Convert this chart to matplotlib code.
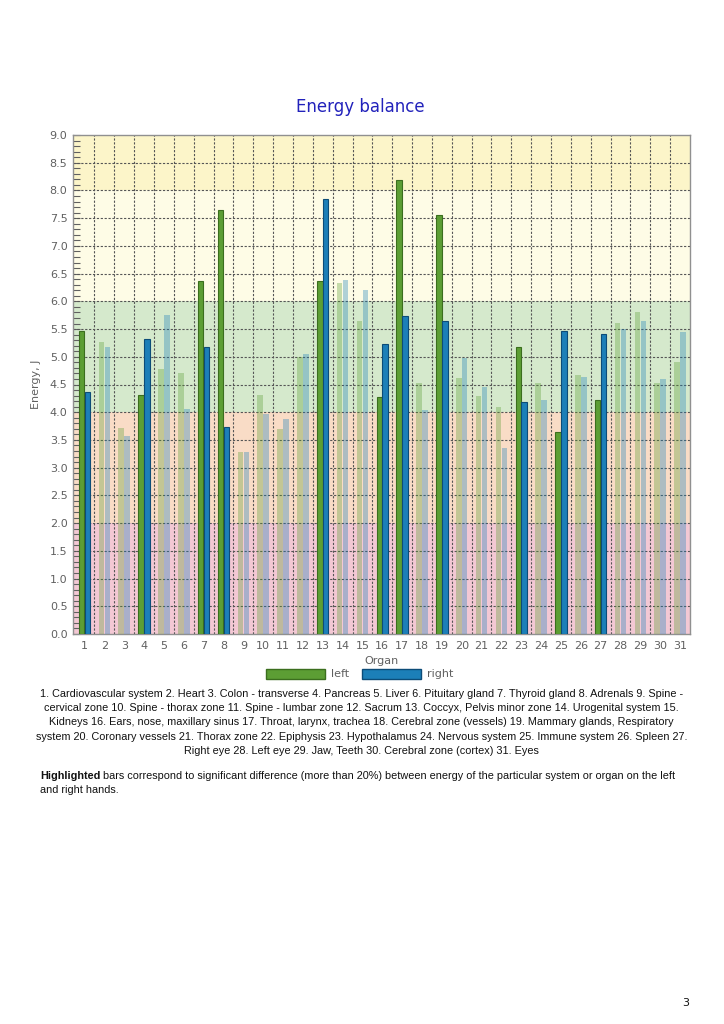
import matplotlib
matplotlib.use("Agg")
import matplotlib.pyplot as plt
from matplotlib.patches import Patch
import numpy as np

organs = list(range(1, 32))
left_vals = [5.47, 5.26, 3.71, 4.31, 4.78, 4.70, 6.37, 7.65, 3.29, 4.31,
             3.69, 4.99, 6.37, 6.33, 5.65, 4.27, 8.19, 4.52, 7.56, 4.61,
             4.30, 4.09, 5.17, 4.52, 3.65, 4.68, 4.22, 5.61, 5.81, 4.52, 4.90]
right_vals = [4.36, 5.17, 3.58, 5.32, 5.76, 4.06, 5.17, 3.74, 3.29, 3.97,
              3.87, 5.05, 7.85, 6.39, 6.20, 5.23, 5.74, 4.04, 5.64, 4.98,
              4.45, 3.36, 4.18, 4.22, 5.46, 4.63, 5.41, 5.50, 5.65, 4.60, 5.45]
highlighted = [1, 4, 7, 8, 13, 16, 17, 19, 23, 25, 27]

bands = [(0, 2, "#f3c8d4"), (2, 4, "#f9dcc6"), (4, 6, "#d5e9cc"),
         (6, 8, "#fefce6"), (8, 9, "#fcf5c9")]

legend_lines = [
    "1. Cardiovascular system 2. Heart 3. Colon - transverse 4. Pancreas 5. Liver 6. Pituitary gland 7. Thyroid gland 8. Adrenals 9. Spine -",
    "cervical zone 10. Spine - thorax zone 11. Spine - lumbar zone 12. Sacrum 13. Coccyx, Pelvis minor zone 14. Urogenital system 15.",
    "Kidneys 16. Ears, nose, maxillary sinus 17. Throat, larynx, trachea 18. Cerebral zone (vessels) 19. Mammary glands, Respiratory",
    "system 20. Coronary vessels 21. Thorax zone 22. Epiphysis 23. Hypothalamus 24. Nervous system 25. Immune system 26. Spleen 27.",
    "Right eye 28. Left eye 29. Jaw, Teeth 30. Cerebral zone (cortex) 31. Eyes",
]
note_bold = "Highlighted"
note_rest = "bars correspond to significant difference (more than 20%) between energy of the particular system or organ on the left"
note_line2 = "and right hands."

GREEN, GREEN_EDGE = "#5c9e34", "#3b6e1e"
BLUE, BLUE_EDGE = "#1c7fb8", "#0c4c78"
GRAY = "#606060"
TXT_FAMILY = "Liberation Sans"

fig = plt.figure(figsize=(7.24, 10.24), dpi=100)
ax = fig.add_axes([73/724, 1-634/1024, 617/724, 499/1024])

for lo, hi, c in bands:
    ax.axhspan(lo, hi, color=c, zorder=0, lw=0)

x = np.array(organs, dtype=float)
w = 0.28
for i, org in enumerate(organs):
    if org in highlighted:
        ax.bar(x[i]-0.15, left_vals[i], width=w, color=GREEN, edgecolor=GREEN_EDGE, linewidth=0.8, zorder=3)
        ax.bar(x[i]+0.15, right_vals[i], width=w, color=BLUE, edgecolor=BLUE_EDGE, linewidth=0.8, zorder=3)
    else:
        ax.bar(x[i]-0.15, left_vals[i], width=w, color=GREEN, alpha=0.34, linewidth=0, zorder=3)
        ax.bar(x[i]+0.15, right_vals[i], width=w, color=BLUE, alpha=0.34, linewidth=0, zorder=3)

ax.set_xlim(0.42, 31.5)
ax.set_ylim(0, 9)
yt = np.arange(0, 9.01, 0.5)
ax.set_yticks(yt)
ax.set_yticklabels([f"{v:.1f}" for v in yt], color=GRAY, fontsize=8)
ax.set_yticks(np.arange(0, 9.01, 0.1), minor=True)
ax.tick_params(axis="y", which="both", direction="in", length=5, width=0.8, color=GRAY, pad=4)
ax.set_xticks(organs)
ax.set_xticklabels([str(o) for o in organs], color=GRAY, fontsize=8)
ax.tick_params(axis="x", length=0, pad=5)

for v in yt[1:-1]:
    ax.axhline(v, color="#555555", lw=0.8, ls=(0, (2, 1.5)), zorder=2)
for b in np.arange(1.5, 31.5, 1.0):
    ax.axvline(b, color="#555555", lw=0.8, ls=(0, (2, 1.5)), zorder=2)

for s in ax.spines.values():
    s.set_color("#909090")
    s.set_linewidth(1.0)

ax.set_ylabel("Energy, J", color=GRAY, fontsize=8, labelpad=6)
ax.set_xlabel("Organ", color=GRAY, fontsize=8, labelpad=4)

fig.text(0.497, 1-107/1024, "Energy balance", color="#2222bb", fontsize=12, ha="center", va="center")

handles = [Patch(facecolor=GREEN, edgecolor=GREEN_EDGE, label="left"),
           Patch(facecolor=BLUE, edgecolor=BLUE_EDGE, label="right")]
leg = fig.legend(handles=handles, loc="center", bbox_to_anchor=(0.497, 1-674/1024), ncol=2,
                 frameon=False, fontsize=8, handlelength=5.3, handleheight=1.0,
                 columnspacing=1.2, handletextpad=0.5)
for t in leg.get_texts():
    t.set_color(GRAY)

renderer = fig.canvas.get_renderer()

# fit font size so the first description line spans ~643 px
probe = fig.text(0, 0, legend_lines[0], fontsize=10, family=TXT_FAMILY)
pw = probe.get_window_extent(renderer=renderer).width
probe.remove()
fs = 10 * 643 / pw

line_y = [694, 708, 722, 737, 751]
for ln, yy in zip(legend_lines, line_y):
    fig.text(361.5/724, 1-yy/1024, ln, ha="center", va="center", fontsize=fs,
             family=TXT_FAMILY, color="#111111")

tb = fig.text(40/724, 1-776/1024, note_bold, fontweight="bold", fontsize=fs,
              family=TXT_FAMILY, ha="left", va="center", color="#111111")
bb = tb.get_window_extent(renderer=renderer)
fig.text(bb.x1/724 + 3/724, 1-776/1024, note_rest, fontsize=fs, family=TXT_FAMILY,
         ha="left", va="center", color="#111111")
fig.text(40/724, 1-790/1024, note_line2, fontsize=fs, family=TXT_FAMILY,
         ha="left", va="center", color="#111111")

fig.text(686/724, 1-1003/1024, "3", fontsize=8, ha="center", va="center", color="#111111")

fig.savefig("out.png", dpi=100)
